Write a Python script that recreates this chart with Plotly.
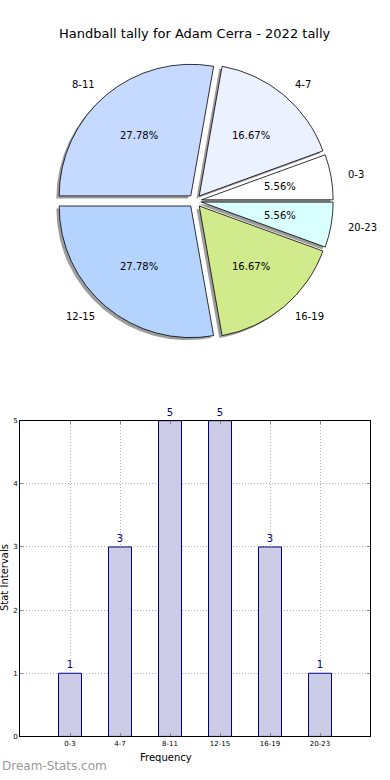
import numpy as np
import plotly.graph_objects as go

# ---------------- data ----------------
title_text = "Handball tally for Adam Cerra - 2022 tally"
categories = ["0-3", "4-7", "8-11", "12-15", "16-19", "20-23"]
counts = [1, 3, 5, 5, 3, 1]
pie_colors = ["#FFFFFF", "#EBF1FF", "#C6D9FF", "#B4D4FF", "#D1EA8C", "#DAFFFF"]
y_ticks = [0, 1, 2, 3, 4, 5]
x_title = "Frequency"
y_title = "Stat Intervals"
watermark = "Dream-Stats.com"

# ---------------- layout constants ----------------
W, H = 390, 780
FONT = "DejaVu Sans"
pie_cx, pie_cy, pie_r = 195.0, 199.0, 133.0
pull = 0.05
half = pie_r * (1 + pull)
shadow_dx, shadow_dy = -2.8, 2.5
total = float(sum(counts))
# plotly (counterclockwise) puts the first slice clockwise of the rotation line;
# shift so the first slice starts at 3 o'clock and runs counterclockwise
rotation = 90 - 360.0 * counts[0] / total


def px2paper(x, y):
    return x / W, 1 - y / H


def dom(cx, cy):
    return dict(x=[(cx - half) / W, (cx + half) / W],
                y=[1 - (cy + half) / H, 1 - (cy - half) / H])


fig = go.Figure()

# shadow pie
fig.add_trace(go.Pie(
    labels=categories, values=counts, sort=False, direction="counterclockwise",
    rotation=rotation, pull=[pull] * len(counts),
    domain=dom(pie_cx + shadow_dx, pie_cy + shadow_dy),
    marker=dict(colors=["rgba(60,60,60,0.5)"] * len(counts), line=dict(width=0)),
    textinfo="none", hoverinfo="skip", showlegend=False,
))
# main pie
fig.add_trace(go.Pie(
    labels=categories, values=counts, sort=False, direction="counterclockwise",
    rotation=rotation, pull=[pull] * len(counts), domain=dom(pie_cx, pie_cy),
    marker=dict(colors=pie_colors, line=dict(color="#000000", width=0.8)),
    textinfo="none", showlegend=False,
))

annotations = []
start = 0.0
for lab, v in zip(categories, counts):
    ang = 360.0 * v / total
    mid = np.deg2rad(start + ang / 2)
    start += ang
    ccx = pie_cx + pull * pie_r * np.cos(mid)
    ccy = pie_cy - pull * pie_r * np.sin(mid)
    # label
    lx = ccx + 1.1 * pie_r * np.cos(mid)
    ly = ccy - 1.1 * pie_r * np.sin(mid)
    xa, ya = px2paper(lx, ly)
    annotations.append(dict(x=xa, y=ya, xref="paper", yref="paper", text=lab,
                            showarrow=False, xanchor="left" if np.cos(mid) > 0 else "right",
                            yanchor="middle", font=dict(family=FONT, size=10, color="#000")))
    # percent
    tx = ccx + 0.6 * pie_r * np.cos(mid)
    ty = ccy - 0.6 * pie_r * np.sin(mid)
    xa, ya = px2paper(tx, ty)
    annotations.append(dict(x=xa, y=ya, xref="paper", yref="paper",
                            text=f"{100 * v / total:.2f}%", showarrow=False,
                            xanchor="center", yanchor="middle",
                            font=dict(family=FONT, size=10, color="#000")))

# bar chart
fig.add_trace(go.Bar(
    x=categories, y=counts, width=0.46, xaxis="x", yaxis="y",
    marker=dict(color="#CCCCE6", line=dict(color="#000080", width=1)),
    text=[str(c) for c in counts], textposition="outside", cliponaxis=False,
    textfont=dict(family=FONT, size=10, color="#000080"), showlegend=False,
))

ax_left, ax_right, ax_top, ax_bottom = 20, 370, 421, 740

annotations += [
    dict(x=0.5, y=1 - 30 / H, xref="paper", yref="paper", text=title_text, showarrow=False,
         xanchor="center", yanchor="middle", font=dict(family=FONT, size=13, color="#000")),
    dict(x=166 / W, y=1 - 761 / H, xref="paper", yref="paper", text=x_title, showarrow=False,
         xanchor="center", yanchor="middle", font=dict(family=FONT, size=10, color="#000")),
    dict(x=4 / W, y=1 - 580 / H, xref="paper", yref="paper", text=y_title, showarrow=False,
         textangle=-90, xanchor="center", yanchor="middle",
         font=dict(family=FONT, size=10, color="#000")),
    dict(x=0, y=1 - 770 / H, xref="paper", yref="paper", text=watermark, showarrow=False,
         xanchor="left", yanchor="middle", font=dict(family=FONT, size=12, color="#999999")),
]

grid = dict(showgrid=True, gridcolor="#B0B0B0", griddash="1px,2px", gridwidth=1)
fig.update_layout(
    width=W, height=H, margin=dict(l=0, r=0, t=0, b=0),
    paper_bgcolor="white", plot_bgcolor="white", showlegend=False,
    annotations=annotations,
    xaxis=dict(domain=[ax_left / W, ax_right / W], range=[-1, 6], type="category",
               showline=True, mirror="ticks", linecolor="#000", linewidth=1,
               ticks="inside", ticklen=3, tickcolor="#888",
               tickfont=dict(family=FONT, size=7, color="#000"), zeroline=False,
               fixedrange=True, **grid),
    yaxis=dict(domain=[1 - ax_bottom / H, 1 - ax_top / H], range=[0, 5],
               tickvals=y_ticks, showline=True, mirror="ticks", linecolor="#000",
               linewidth=1, ticks="inside", ticklen=3, tickcolor="#888",
               tickfont=dict(family=FONT, size=7, color="#000"), zeroline=False,
               fixedrange=True, **grid),
)

fig.write_html("out.html", config={"displayModeBar": False},
               post_script="document.body.style.margin='0';")
